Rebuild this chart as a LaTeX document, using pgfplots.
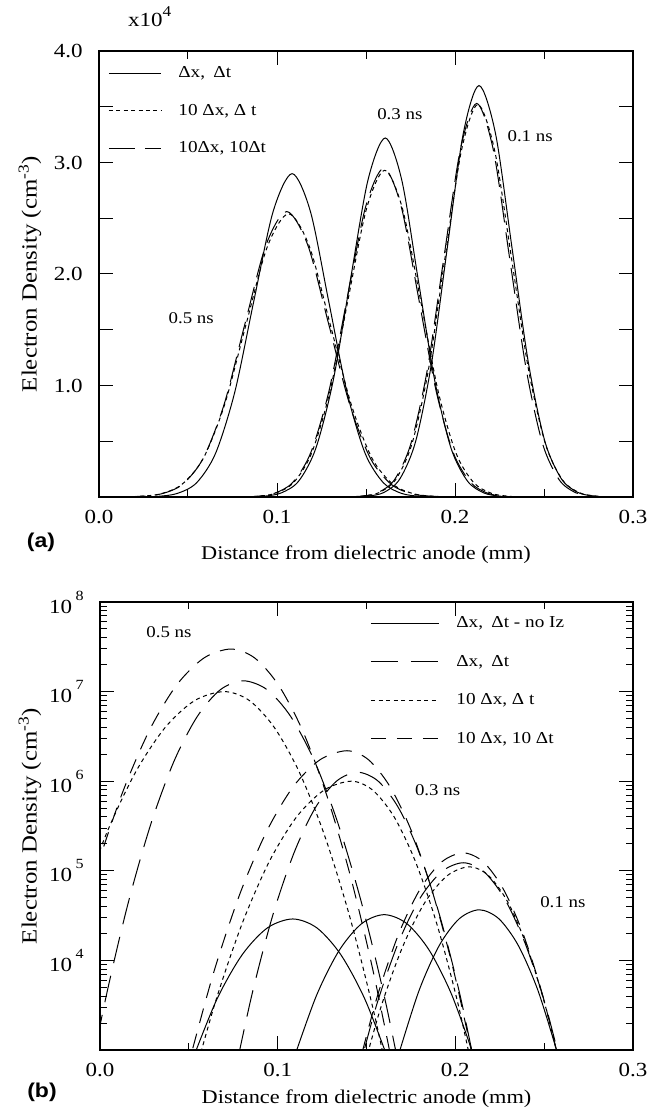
\documentclass[border=0pt]{standalone}
\usepackage{fontspec}
\setmainfont{Liberation Serif}[FakeStretch=1.15]
\newfontfamily\sflab{Liberation Sans}[FakeStretch=1.15]
\usepackage{pgfplots}
\pgfplotsset{compat=1.18}
\newcommand\tenpow[1]{10\,\raisebox{6.5pt}{\fontsize{7}{8}\selectfont #1}}
\tikzset{
  solidc/.style={black, line width=0.5pt, solid},
  ldash/.style={black, line width=0.5pt, dash pattern=on 13pt off 5pt},
  dotc/.style={black, line width=0.5pt, dash pattern=on 2pt off 1.7pt},
  bldash/.style={black, line width=0.5pt, dash pattern=on 13.5pt off 6.5pt},
  bdash/.style={black, line width=0.5pt, dash pattern=on 7.5pt off 5.5pt},
  bdot/.style={black, line width=0.5pt, dash pattern=on 2pt off 1.8pt},
}
\pgfplotsset{myax/.style={
  scale only axis, anchor=south west,
  xmin=0, xmax=0.3,
  xtick={0,0.1,0.2,0.3}, xticklabels={0.0,0.1,0.2,0.3},
  minor xtick={0.05,0.15,0.25},
  tick align=inside, major tick length=7pt,
  axis line style={line width=0.7pt},
  every tick/.style={black, line width=0.5pt},
  xticklabel style={anchor=base, yshift=-13.2pt, font=\fontsize{10}{12}\selectfont},
  yticklabel style={anchor=east, xshift=-8pt, inner sep=0pt, font=\fontsize{10}{12}\selectfont},
  xlabel style={font=\fontsize{9.7}{11}\selectfont},
  ylabel style={font=\fontsize{10.8}{12}\selectfont},
  legend cell align=left,
  every axis plot/.append style={smooth, forget plot},
}}
\begin{document}
\begin{tikzpicture}
\path[use as bounding box] (0,0) rectangle (323.5pt,555pt);
% ---------------- (a) ----------------
\begin{axis}[myax,
  at={(49.5pt,306.5pt)}, width=267pt, height=223pt,
  ymin=0, ymax=4,
  ytick={0,0.5,1,1.5,2,2.5,3,3.5,4},
  yticklabels={,,1.0,,2.0,,3.0,,4.0},
  minor tick length=4pt,
  xlabel={Distance from dielectric anode (mm)},
  xlabel style={at={(axis description cs:0.5,-0.130)}, anchor=center},
  ylabel={Electron Density (cm\textsuperscript{-3})},
  ylabel style={at={(axis description cs:-0.1292,0.5)}, anchor=center},
  legend image code/.code={\draw[#1] (0pt,0pt) -- (26pt,0pt);},
  legend style={draw=none, fill=none, at={(0,1)}, anchor=north west,
    xshift=4.5pt, yshift=-7.3pt, inner sep=0pt, row sep=11.25pt, column sep=8.5pt,
    font=\fontsize{8.35}{9}\selectfont,
    nodes={inner sep=0pt, text height=6pt, text depth=1.5pt}},
]
\addlegendimage{solidc}\addlegendentry{Δx,\enspace Δt}
\addlegendimage{dotc}\addlegendentry{10 Δx, Δ t}
\addlegendimage{ldash}\addlegendentry{10Δx, 10Δt}
% 0.5 ns
\addplot[solidc] coordinates {(0.0225,0.001)(0.0333,0.006)(0.0440,0.032)(0.0548,0.127)(0.0655,0.392)(0.0763,0.942)(0.0870,1.759)(0.0978,2.559)(0.1085,2.900)(0.1188,2.559)(0.1290,1.759)(0.1393,0.942)(0.1495,0.392)(0.1598,0.127)(0.1700,0.032)(0.1803,0.006)(0.1905,0.001)};
\addplot[ldash] coordinates {(0.0115,0.001)(0.0233,0.006)(0.0350,0.028)(0.0468,0.112)(0.0585,0.346)(0.0703,0.831)(0.0820,1.553)(0.0938,2.259)(0.1055,2.560)(0.1173,2.259)(0.1290,1.553)(0.1408,0.831)(0.1525,0.346)(0.1643,0.112)(0.1760,0.028)(0.1878,0.006)(0.1995,0.001)};
\addplot[dotc] coordinates {(0.0105,0.001)(0.0225,0.006)(0.0345,0.028)(0.0465,0.112)(0.0585,0.344)(0.0705,0.825)(0.0825,1.541)(0.0945,2.242)(0.1065,2.540)(0.1183,2.242)(0.1300,1.541)(0.1418,0.825)(0.1535,0.344)(0.1653,0.112)(0.1770,0.028)(0.1888,0.006)(0.2005,0.001)};
% 0.3 ns
\addplot[solidc] coordinates {(0.0828,0.001)(0.0926,0.007)(0.1023,0.036)(0.1121,0.141)(0.1218,0.436)(0.1316,1.046)(0.1413,1.953)(0.1511,2.842)(0.1608,3.220)(0.1701,2.842)(0.1793,1.953)(0.1886,1.046)(0.1978,0.436)(0.2071,0.141)(0.2163,0.036)(0.2256,0.007)(0.2348,0.001)};
\addplot[ldash] coordinates {(0.0780,0.001)(0.0883,0.006)(0.0985,0.033)(0.1088,0.130)(0.1190,0.399)(0.1293,0.958)(0.1395,1.789)(0.1498,2.603)(0.1600,2.950)(0.1698,2.603)(0.1795,1.789)(0.1893,0.958)(0.1990,0.399)(0.2088,0.130)(0.2185,0.033)(0.2283,0.006)(0.2380,0.001)};
\addplot[dotc] coordinates {(0.0785,0.001)(0.0888,0.006)(0.0990,0.033)(0.1093,0.129)(0.1195,0.396)(0.1298,0.951)(0.1400,1.777)(0.1503,2.586)(0.1605,2.930)(0.1705,2.586)(0.1805,1.777)(0.1905,0.951)(0.2005,0.396)(0.2105,0.129)(0.2205,0.033)(0.2305,0.006)(0.2405,0.001)};
% 0.1 ns
\addplot[solidc] coordinates {(0.1423,0.001)(0.1512,0.008)(0.1601,0.041)(0.1690,0.162)(0.1779,0.499)(0.1868,1.198)(0.1957,2.238)(0.2046,3.256)(0.2135,3.690)(0.2228,3.256)(0.2320,2.238)(0.2413,1.198)(0.2505,0.499)(0.2598,0.162)(0.2690,0.041)(0.2783,0.008)(0.2875,0.001)};
\addplot[ldash] coordinates {(0.1382,0.001)(0.1475,0.008)(0.1567,0.039)(0.1660,0.155)(0.1752,0.478)(0.1845,1.146)(0.1937,2.141)(0.2030,3.115)(0.2122,3.530)(0.2215,3.115)(0.2307,2.141)(0.2400,1.146)(0.2492,0.478)(0.2585,0.155)(0.2677,0.039)(0.2770,0.008)(0.2862,0.001)};
\addplot[dotc] coordinates {(0.1388,0.001)(0.1481,0.008)(0.1573,0.039)(0.1666,0.155)(0.1758,0.476)(0.1851,1.143)(0.1943,2.135)(0.2036,3.106)(0.2128,3.520)(0.2223,3.106)(0.2318,2.135)(0.2413,1.143)(0.2508,0.476)(0.2603,0.155)(0.2698,0.039)(0.2793,0.008)(0.2888,0.001)};
\node[font=\fontsize{8.2}{9}\selectfont] at (axis cs:0.0518,1.607) {0.5 ns};
\node[font=\fontsize{8.2}{9}\selectfont] at (axis cs:0.169,3.43) {0.3 ns};
\node[font=\fontsize{8.2}{9}\selectfont] at (axis cs:0.2422,3.24) {0.1 ns};
\end{axis}
\node[anchor=base west, font=\fontsize{10}{12}\selectfont] at (60.5pt,541.5pt) {x10\raisebox{5pt}{\fontsize{7.5}{8}\selectfont 4}};
% ---------------- (b) ----------------
\begin{axis}[myax,
  at={(50pt,30pt)}, width=266.5pt, height=224pt,
  ymode=log, ymin=1e3, ymax=1e8,
  ytick={1e3,1e4,1e5,1e6,1e7,1e8},
  yticklabels={,\tenpow{4},\tenpow{5},\tenpow{6},\tenpow{7},\tenpow{8}},
  minor ytick={2e3,3e3,4e3,5e3,6e3,7e3,8e3,9e3,2e4,3e4,4e4,5e4,6e4,7e4,8e4,9e4,2e5,3e5,4e5,5e5,6e5,7e5,8e5,9e5,2e6,3e6,4e6,5e6,6e6,7e6,8e6,9e6,2e7,3e7,4e7,5e7,6e7,7e7,8e7,9e7},
  minor tick length=3.5pt, major tick length=7pt,
  xlabel={Distance from dielectric anode (mm)},
  xlabel style={at={(axis description cs:0.5,-0.1094)}, anchor=center},
  ylabel={Electron Density (cm\textsuperscript{-3})},
  ylabel style={at={(axis description cs:-0.1313,0.5)}, anchor=center},
  legend image code/.code={\draw[#1] (0pt,0pt) -- (34pt,0pt);},
  legend style={draw=none, fill=none, at={(0,1)}, anchor=north west,
    xshift=135pt, yshift=-6.8pt, inner sep=0pt, row sep=11.7pt, column sep=8.5pt,
    font=\fontsize{8.35}{9}\selectfont,
    nodes={inner sep=0pt, text height=6pt, text depth=1.5pt}},
]
\addlegendimage{solidc}\addlegendentry{Δx,\enspace Δt - no Iz}
\addlegendimage{bldash}\addlegendentry{Δx,\enspace Δt}
\addlegendimage{bdot}\addlegendentry{10 Δx, Δ t}
\addlegendimage{bdash}\addlegendentry{10 Δx, 10 Δt}
% no Iz (solid)
\addplot[solidc] coordinates {(0.0515,728.5)(0.0657,3651)(0.0800,11545)(0.0942,23035)(0.1085,29000)(0.1221,23035)(0.1356,11545)(0.1492,3651)(0.1628,728.5)};
\addplot[solidc] coordinates {(0.1092,814)(0.1219,4079)(0.1346,12898)(0.1473,25735)(0.1600,32400)(0.1727,25735)(0.1854,12898)(0.1981,4079)(0.2108,814)};
\addplot[solidc] coordinates {(0.1683,922)(0.1796,4621)(0.1909,14610)(0.2022,29151)(0.2135,36700)(0.2245,29151)(0.2355,14610)(0.2465,4621)(0.2575,922)};
% dx, dt (long dash)
\addplot[bldash] coordinates {(-0.0104,166)(0.0026,3316)(0.0156,4.174e4)(0.0286,3.316e5)(0.0416,1.662e6)(0.0547,5.255e6)(0.0677,1.0485e7)(0.0807,1.32e7)(0.0941,1.0485e7)(0.1074,5.255e6)(0.1208,1.662e6)(0.1341,3.316e5)(0.1475,4.174e4)(0.1609,3316)(0.1742,166)};
\addplot[bldash] coordinates {(0.0733,316)(0.0853,3981)(0.0972,3.162e4)(0.1092,1.585e5)(0.1211,5.012e5)(0.1331,1.0e6)(0.1450,1.259e6)(0.1566,1.0e6)(0.1681,5.012e5)(0.1797,1.585e5)(0.1912,3.162e4)(0.2028,3981)(0.2143,316)};
\addplot[bldash] coordinates {(0.1433,389)(0.1555,3090)(0.1678,1.549e4)(0.1800,4.897e4)(0.1923,9.770e4)(0.2045,1.23e5)(0.2161,9.770e4)(0.2277,4.897e4)(0.2393,1.549e4)(0.2509,3090)(0.2625,389)};
% 10dx, dt (dotted)
\addplot[bdot] coordinates {(-0.0133,3.162e4)(0.0033,2.512e5)(0.0200,1.259e6)(0.0367,3.981e6)(0.0533,7.943e6)(0.0700,1.0e7)(0.0841,7.943e6)(0.0981,3.981e6)(0.1122,1.259e6)(0.1263,2.512e5)(0.1404,3.162e4)(0.1544,2512)(0.1685,126)};
\addplot[bdot] coordinates {(0.0489,251)(0.0644,3162)(0.0798,2.512e4)(0.0952,1.259e5)(0.1106,3.981e5)(0.1261,7.943e5)(0.1415,1.0e6)(0.1535,7.943e5)(0.1656,3.981e5)(0.1776,1.259e5)(0.1897,2.512e4)(0.2017,3162)(0.2137,251)};
\addplot[bdot] coordinates {(0.1450,351)(0.1576,2786)(0.1702,1.396e4)(0.1828,4.415e4)(0.1954,8.809e4)(0.2080,1.109e5)(0.2188,8.809e4)(0.2297,4.415e4)(0.2405,1.396e4)(0.2513,2786)(0.2622,351)};
% 10dx, 10dt (dashed)
\addplot[bdash] coordinates {(-0.0178,7498)(-0.0026,9.439e4)(0.0127,7.498e5)(0.0280,3.758e6)(0.0432,1.188e7)(0.0585,2.371e7)(0.0737,2.985e7)(0.0871,2.371e7)(0.1004,1.188e7)(0.1138,3.758e6)(0.1271,7.498e5)(0.1405,9.439e4)(0.1538,7498)(0.1672,376)};
\addplot[bdash] coordinates {(0.0485,550)(0.0636,6918)(0.0787,5.495e4)(0.0938,2.754e5)(0.1088,8.710e5)(0.1239,1.738e6)(0.1390,2.188e6)(0.1511,1.738e6)(0.1632,8.710e5)(0.1754,2.754e5)(0.1875,5.495e4)(0.1996,6918)(0.2117,550)};
\addplot[bdash] coordinates {(0.1440,501)(0.1561,3981)(0.1682,1.995e4)(0.1803,6.310e4)(0.1924,1.259e5)(0.2045,1.585e5)(0.2157,1.259e5)(0.2269,6.310e4)(0.2381,1.995e4)(0.2493,3981)(0.2605,501)};
\node[font=\fontsize{8.2}{9}\selectfont] at (axis cs:0.0388,4.6e7) {0.5 ns};
\node[font=\fontsize{8.2}{9}\selectfont] at (axis cs:0.190,8.0e5) {0.3 ns};
\node[font=\fontsize{8.2}{9}\selectfont] at (axis cs:0.2605,4.5e4) {0.1 ns};
\end{axis}
\node[font=\sflab\bfseries\fontsize{10}{11}\selectfont] at (20.5pt,284pt) {(a)};
\node[font=\sflab\bfseries\fontsize{10}{11}\selectfont] at (21pt,9pt) {(b)};
\end{tikzpicture}
\end{document}
